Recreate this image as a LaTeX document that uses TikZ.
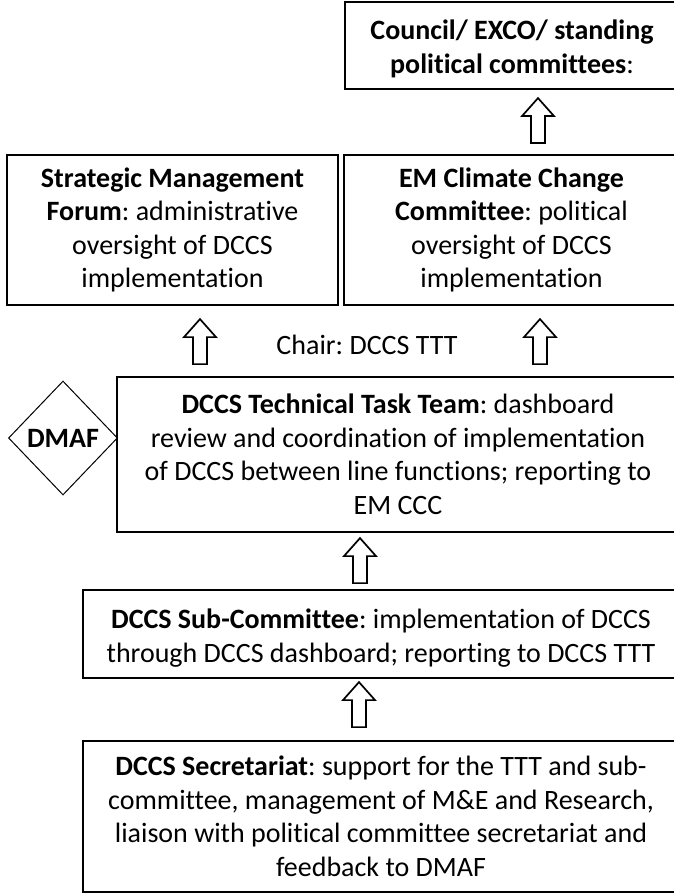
\documentclass[tikz,border=0pt]{standalone}
\usepackage{fontspec}
\setmainfont{Carlito}[Ligatures={NoCommon}]
\usetikzlibrary{shapes.geometric,calc}
\newcommand\dnshift[1]{\rule{0pt}{#1}}
\begin{document}
\frenchspacing
\begin{tikzpicture}[x=1pt,y=-1pt,
  txt/.style={font=\fontsize{28}{33.5}\selectfont, align=center, inner sep=0pt},
  box/.style={txt, draw, line width=1.8pt},
  arrowline/.style={draw, line width=1.7pt, fill=white, line join=miter},
  blockup/.pic={\path[arrowline] (-7,0) -- (-7,-27) -- (-16,-27) -- (0,-45) -- (16,-27) -- (7,-27) -- (7,0) -- cycle;}
]
\useasboundingbox (0,0) rectangle (674,896);
\clip (0,0) rectangle (674,896);

% boxes (right edges run past the picture's border, as in the reference)
\node[box, minimum width=334pt, minimum height=87pt] (council) at (512,45.5)
  {\dnshift{26pt}\textbf{Council/ EXCO/ standing}\\\textbf{political committees}:};
\node[box, minimum width=331pt, minimum height=150pt] (smf) at (172.5,230)
  {\textbf{Strategic Management}\\\textbf{Forum}: administrative\\oversight of DCCS\\implementation};
\node[box, minimum width=335pt, minimum height=150pt] (em) at (511.5,230)
  {\textbf{EM Climate Change}\\\textbf{Committee}: political\\oversight of DCCS\\implementation};
\node[txt] (chair) at (367,345) {Chair: DCCS TTT};
\node[box, minimum width=562pt, minimum height=155pt] (ttt) at (398,454.5)
  {\textbf{DCCS Technical Task Team}: dashboard\\review and coordination of implementation\\of DCCS between line functions; reporting to\\EM CCC};
\node[draw, diamond, line width=1pt, minimum width=109pt, minimum height=114pt, inner sep=0pt,
  font=\fontsize{28}{33.5}\selectfont\bfseries] (dmaf) at (63,438) {DMAF};
\node[box, minimum width=596pt, minimum height=88pt] (sub) at (381,634)
  {\dnshift{28pt}\textbf{DCCS Sub-Committee}: implementation of DCCS\\through DCCS dashboard; reporting to DCCS TTT};
\node[box, minimum width=596pt, minimum height=151pt] (sec) at (381,816.5)
  {\textbf{DCCS Secretariat}: support for the TTT and sub-\\committee, management of M\&E and Research,\\liaison with political committee secretariat and\\feedback to DMAF};

% block arrows
\coordinate (a1) at ($(em.north)+(26.5,-11)$);
\coordinate (a2) at ($(ttt.north)+(-198,-12)$);
\coordinate (a3) at ($(ttt.north)+(142,-12)$);
\coordinate (a4) at ($(sub.north)+(-21,-6)$);
\coordinate (a5) at ($(sec.north)+(-22,-13)$);
\pic at (a1) {blockup};
\pic at (a2) {blockup};
\pic at (a3) {blockup};
\pic at (a4) {blockup};
\pic at (a5) {blockup};
\end{tikzpicture}
\end{document}
